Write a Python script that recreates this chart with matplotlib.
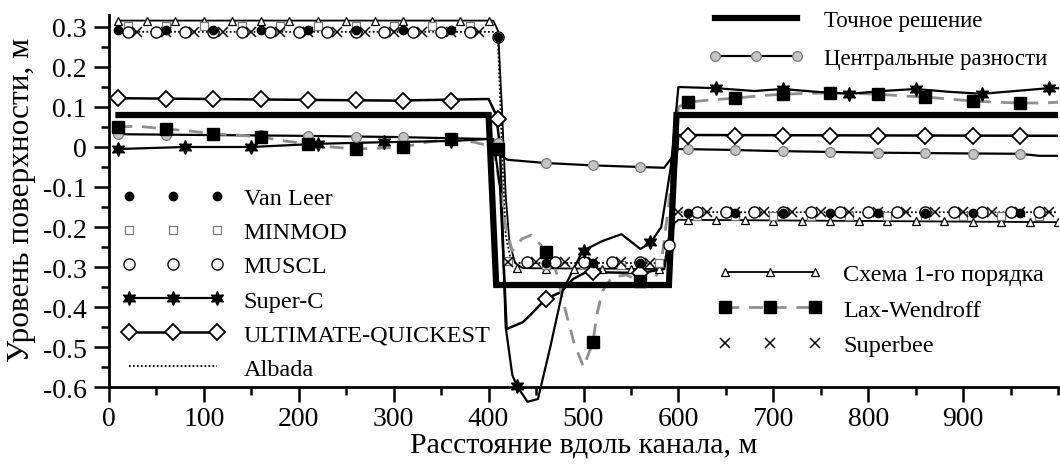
import matplotlib
matplotlib.use("Agg")
import matplotlib.pyplot as plt
from matplotlib.lines import Line2D
from matplotlib.ticker import MultipleLocator, FuncFormatter

plt.rcParams["font.family"] = ["Liberation Serif", "DejaVu Serif"]
plt.rcParams["axes.unicode_minus"] = False

# ---- data (x in m, level in m) ----
exact_x = [10, 400, 408, 590, 598, 1000]
exact_y = [0.08, 0.08, -0.345, -0.345, 0.08, 0.08]

central_x = [10, 100, 200, 300, 400, 408, 412, 420, 460, 510, 560, 585, 592, 600,
             650, 700, 800, 900, 960, 980, 1000]
central_y = [0.032, 0.03, 0.028, 0.025, 0.02, 0.01, -0.02, -0.032, -0.04, -0.046, -0.05,
             -0.052, -0.03, -0.005, -0.007, -0.01, -0.014, -0.016, -0.017, -0.022, -0.022]
central_mx = [10, 60, 110, 160, 210, 260, 310, 360, 410, 460, 510, 560,
              610, 660, 710, 760, 810, 860, 910, 960]
central_my = [0.032, 0.031, 0.03, 0.029, 0.028, 0.026, 0.025, 0.023, 0.01, -0.04, -0.046, -0.05,
              -0.005, -0.008, -0.01, -0.013, -0.015, -0.015, -0.017, -0.017]

vanleer_x = [10, 60, 110, 160, 210, 260, 310, 360, 410, 460, 510, 560,
             610, 660, 710, 760, 810, 860, 910, 960]
vanleer_y = [0.292, 0.292, 0.292, 0.292, 0.292, 0.292, 0.292, 0.292, 0.275, -0.29, -0.29, -0.29,
             -0.165, -0.165, -0.165, -0.165, -0.165, -0.165, -0.165, -0.165]

minmod_x = [20, 60, 100, 140, 180, 220, 260, 300, 340, 380, 420, 460, 500, 540, 580,
            620, 660, 700, 740, 780, 820, 860, 900, 940, 980]
minmod_y = [0.303, 0.303, 0.303, 0.303, 0.303, 0.303, 0.303, 0.303, 0.303, 0.303,
            -0.285, -0.295, -0.295, -0.295, -0.29,
            -0.172, -0.172, -0.172, -0.172, -0.172, -0.172, -0.172, -0.172, -0.172, -0.172]

muscl_x = [20, 50, 80, 110, 140, 170, 200, 230, 260, 290, 320, 350, 380, 410,
           440, 470, 500, 530, 560, 590,
           620, 650, 680, 710, 740, 770, 800, 830, 860, 890, 920, 950, 980]
muscl_y = [0.287, 0.287, 0.287, 0.287, 0.287, 0.287, 0.287, 0.287, 0.287, 0.287, 0.287,
           0.287, 0.287, 0.275,
           -0.288, -0.288, -0.288, -0.288, -0.288, -0.245,
           -0.163, -0.163, -0.163, -0.163, -0.163, -0.163, -0.163, -0.163, -0.163, -0.163,
           -0.163, -0.163, -0.163]

superc_x = [10, 80, 150, 220, 290, 360, 400, 405, 412, 416, 418, 425, 430, 441, 452,
            465, 478, 499, 520, 540, 560, 571, 582, 592, 600,
            640, 680, 710, 745, 781, 815, 850, 885, 920, 955, 990, 1000]
superc_y = [-0.005, 0.0, 0.0, 0.008, 0.012, 0.015, 0.02, 0.02, -0.1, -0.3, -0.45, -0.57,
            -0.598, -0.637, -0.63, -0.5, -0.36, -0.26, -0.235, -0.218, -0.255, -0.238,
            -0.2, -0.05, 0.15, 0.147, 0.14, 0.145, 0.138, 0.133, 0.14, 0.145, 0.138,
            0.133, 0.14, 0.147, 0.147]
superc_mx = [10, 80, 150, 220, 290, 360, 430, 500, 570, 640, 710, 780, 850, 920, 990]
superc_my = [-0.005, 0.0, 0.0, 0.008, 0.012, 0.015, -0.598, -0.26, -0.238,
             0.147, 0.145, 0.133, 0.145, 0.133, 0.147]

uq_x = [10, 150, 300, 400, 408, 412, 416, 419, 436, 444, 460, 476, 489, 505, 510,
        560, 585, 592, 600, 1000]
uq_y = [0.122, 0.119, 0.116, 0.12, 0.08, 0.0, -0.3, -0.455, -0.438, -0.42, -0.38,
        -0.363, -0.33, -0.31, -0.313, -0.315, -0.305, -0.2, 0.03, 0.028]
uq_mx = [10, 60, 110, 160, 210, 260, 310, 360, 410, 460, 510, 560,
         610, 660, 710, 760, 810, 860, 910, 960]
uq_my = [0.122, 0.121, 0.12, 0.119, 0.118, 0.117, 0.116, 0.116, 0.07, -0.38, -0.313, -0.316,
         0.028, 0.028, 0.028, 0.028, 0.028, 0.028, 0.028, 0.028]

albada_x = [10, 406, 410, 414, 418, 424, 585, 590, 597, 1000]
albada_y = [0.288, 0.288, 0.26, 0.0, -0.22, -0.29, -0.29, -0.24, -0.163, -0.163]

first_x = [10, 405, 410, 414, 418, 422, 428, 436, 580, 585, 590, 596, 600, 1000]
first_y = [0.316, 0.316, 0.29, 0.1, -0.12, -0.24, -0.29, -0.303, -0.305, -0.3, -0.25,
           -0.19, -0.182, -0.188]
first_mx = [10, 40, 70, 100, 130, 160, 190, 220, 250, 280, 310, 340, 370, 400,
            430, 460, 490, 520, 550, 580,
            610, 640, 670, 700, 730, 760, 790, 820, 850, 880, 910, 940, 970, 1000]
first_my = [0.316] * 14 + [-0.303, -0.305, -0.305, -0.305, -0.305, -0.305] + \
           [-0.182, -0.183, -0.183, -0.184, -0.184, -0.185, -0.185, -0.185, -0.186,
            -0.186, -0.187, -0.187, -0.188, -0.188]

lw_x = [10, 30, 60, 85, 110, 135, 160, 185, 210, 235, 260, 285, 310, 335, 360, 385,
        405, 412, 418, 425, 435, 445, 455, 460, 470, 480, 490, 500, 510, 514, 520, 530,
        545, 560, 572, 582, 592, 600, 610, 635, 660, 685, 710, 735, 760, 785, 810, 835,
        860, 885, 910, 935, 960, 985, 1000]
lw_y = [0.05, 0.052, 0.045, 0.04, 0.033, 0.03, 0.025, 0.015, 0.008, 0.0, -0.005, -0.003,
        0.0, 0.012, 0.02, 0.012, 0.0, -0.1, -0.2, -0.26, -0.23, -0.22, -0.245, -0.263,
        -0.3, -0.4, -0.49, -0.55, -0.488, -0.42, -0.36, -0.325, -0.32, -0.335, -0.35,
        -0.29, -0.1, 0.1, 0.112, 0.118, 0.122, 0.128, 0.132, 0.134, 0.135, 0.134, 0.132,
        0.128, 0.125, 0.12, 0.115, 0.112, 0.11, 0.11, 0.112]
lw_mx = [10, 60, 110, 160, 210, 260, 310, 360, 410, 460, 510, 560,
         610, 660, 710, 760, 810, 860, 910, 960]
lw_my = [0.05, 0.045, 0.033, 0.025, 0.008, -0.005, 0.0, 0.02, -0.005, -0.263, -0.488, -0.335,
         0.112, 0.122, 0.132, 0.135, 0.132, 0.125, 0.115, 0.11]

superbee_x = [30, 60, 90, 120, 150, 180, 210, 240, 270, 300, 330, 360, 390,
              420, 450, 480, 510, 540, 570,
              600, 630, 660, 690, 720, 750, 780, 810, 840, 870, 900, 930, 960, 990]
superbee_y = [0.287] * 13 + [-0.288, -0.288, -0.288, -0.288, -0.288, -0.29] + \
             [-0.163] * 14

GRAY_FC = "#c4c4c4"
GRAY_EC = "#7a7a7a"
LW_GRAY = "#8f8f8f"
STAR = (6, 1, 0)

fig = plt.figure(figsize=(10.6, 4.77), dpi=100)
ax = fig.add_axes([109 / 1060, 1 - 388 / 477, (1058 - 109) / 1060, (388 - 16) / 477])

# lines
ax.plot(albada_x, albada_y, ls=(0, (1, 1.2)), color="k", lw=1.3, zorder=2)
ax.plot(first_x, first_y, "-", color="k", lw=1.3, zorder=2)
ax.plot(central_x, central_y, "-", color="k", lw=1.6, zorder=2)
ax.plot(uq_x, uq_y, "-", color="k", lw=1.8, zorder=2)
ax.plot(lw_x, lw_y, color=LW_GRAY, lw=2.0, dashes=(5, 3.5), zorder=2)
ax.plot(superc_x, superc_y, "-", color="k", lw=1.6, zorder=2, clip_on=False)
ax.plot(exact_x, exact_y, "-", color="k", lw=4.5, solid_joinstyle="miter", zorder=3)

# markers
ax.plot(first_mx, first_my, ls="none", marker="^", ms=6, mfc="white", mec="k", mew=0.9, zorder=4)
ax.plot(minmod_x, minmod_y, ls="none", marker="s", ms=6, mfc="white", mec=GRAY_EC, mew=0.9, zorder=4)
ax.plot(muscl_x, muscl_y, ls="none", marker="o", ms=8, mfc="white", mec="k", mew=1.0, zorder=4)
ax.plot(superbee_x, superbee_y, ls="none", marker="x", ms=7, mec="k", mew=1.1, zorder=4)
ax.plot(vanleer_x, vanleer_y, ls="none", marker="o", ms=6, mfc="k", mec="k", zorder=5)
ax.plot(central_mx, central_my, ls="none", marker="o", ms=7, mfc=GRAY_FC, mec=GRAY_EC, mew=0.9, zorder=4)
ax.plot(uq_mx, uq_my, ls="none", marker="D", ms=8, mfc="white", mec="k", mew=1.3, zorder=4)
ax.plot(lw_mx, lw_my, ls="none", marker="s", ms=8, mfc="k", mec="k", zorder=4)
ax.plot(superc_mx, superc_my, ls="none", marker=STAR, ms=10, mfc="k", mec="k",
        zorder=5, clip_on=False)

ax.set_xlim(0, 1000)
ax.set_ylim(-0.6, 0.33)
ax.set_xticks(range(0, 1000, 100))
ax.xaxis.set_minor_locator(MultipleLocator(50))
ax.yaxis.set_major_locator(MultipleLocator(0.1))
ax.yaxis.set_minor_locator(MultipleLocator(0.05))
ax.yaxis.set_major_formatter(FuncFormatter(lambda v, p: "0" if abs(v) < 1e-9 else f"{v:.1f}"))
for side in ("top", "right"):
    ax.spines[side].set_visible(False)
for side in ("left", "bottom"):
    ax.spines[side].set_linewidth(2.0)
ax.tick_params(which="major", direction="out", length=11, width=1.8, labelsize=20, pad=5)
ax.tick_params(which="minor", direction="out", length=6, width=1.8)
ax.tick_params(axis="x", which="major", pad=3)
ax.set_xlabel("Расстояние вдоль канала, м", fontsize=21.5, labelpad=0)
fig.text(0.02, 0.58, "Уровень поверхности, м", rotation=90, fontsize=22.5,
         ha="center", va="center")

# legends
def h(**kw):
    return Line2D([], [], color="k", **kw)

left_handles = [
    h(ls="none", marker="o", ms=6, mfc="k"),
    h(ls="none", marker="s", ms=6, mfc="white", mec=GRAY_EC, mew=0.9),
    h(ls="none", marker="o", ms=8, mfc="white", mew=1.0),
    h(ls="-", lw=1.6, marker=STAR, ms=10),
    h(ls="-", lw=1.8, marker="D", ms=8, mfc="white", mew=1.3),
    h(ls=(0, (1, 1.2)), lw=1.3),
]
left_labels = ["Van Leer", "MINMOD", "MUSCL", "Super-C", "ULTIMATE-QUICKEST", "Albada"]

top_handles = [
    h(ls="-", lw=4.5),
    h(ls="-", lw=1.6, marker="o", ms=7, mfc=GRAY_FC, mec=GRAY_EC, mew=0.9),
]
top_labels = ["Точное решение", "Центральные разности"]

bot_handles = [
    h(ls="-", lw=1.3, marker="^", ms=6, mfc="white", mew=0.9),
    Line2D([], [], color=LW_GRAY, lw=2.0, dashes=(5, 3.5), marker="s", ms=8, mfc="k", mec="k"),
    h(ls="none", marker="x", ms=7, mew=1.1),
]
bot_labels = ["Схема 1-го порядка", "Lax-Wendroff", "Superbee"]

common = dict(frameon=False, numpoints=3, borderpad=0, borderaxespad=0,
              loc="upper left", bbox_transform=fig.transFigure)
leg1 = ax.legend(left_handles, left_labels, bbox_to_anchor=(122 / 1060, 1 - 188 / 477),
                 handlelength=4.2, handletextpad=0.8, fontsize=17.5, labelspacing=0.5,
                 **common)
ax.add_artist(leg1)
leg2 = ax.legend(top_handles, top_labels, bbox_to_anchor=(708 / 1060, 1 - 11 / 477),
                 handlelength=4.2, handletextpad=0.85, fontsize=16.5, labelspacing=0.75,
                 **common)
ax.add_artist(leg2)
ax.legend(bot_handles, bot_labels, bbox_to_anchor=(718 / 1060, 1 - 264 / 477),
          handlelength=4.3, handletextpad=0.85, fontsize=17.5, labelspacing=0.56,
          **common)

fig.savefig("out.png", dpi=100)
